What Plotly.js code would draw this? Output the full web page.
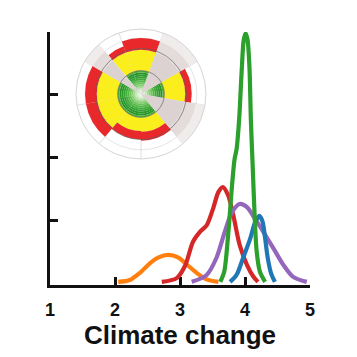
<!DOCTYPE html>
<html><head><meta charset="utf-8">
<script src="https://cdn.plot.ly/plotly-3.0.1.min.js"></script>
<style>html,body{margin:0;padding:0;background:#fff}#chart{width:357px;height:357px}</style>
</head><body><div id="chart"></div>
<script>
// ---- density curves (x = score, y = density) ----
const orangeX = [2.05, 2.23, 2.38, 2.54, 2.67, 2.82, 2.97, 3.10, 3.26, 3.41, 3.59];
const orangeY = [0.02, 0.05, 0.16, 0.32, 0.41, 0.45, 0.41, 0.30, 0.16, 0.06, 0.02];
const redX = [2.72, 2.95, 3.08, 3.20, 3.31, 3.41, 3.51, 3.59, 3.66, 3.74, 3.82, 3.92, 4.03, 4.13, 4.20];
const redY = [0.02, 0.08, 0.28, 0.66, 0.82, 0.92, 1.19, 1.45, 1.53, 1.40, 1.08, 0.60, 0.29, 0.10, 0.02];
const purpleX = [3.18, 3.41, 3.56, 3.69, 3.80, 3.92, 4.03, 4.15, 4.28, 4.44, 4.59, 4.74, 4.95];
const purpleY = [0.02, 0.13, 0.40, 0.82, 1.13, 1.26, 1.21, 1.03, 0.82, 0.55, 0.29, 0.10, 0.02];
const greenX = [3.62, 3.68, 3.74, 3.80, 3.84, 3.87, 3.91, 3.95, 3.98, 4.01, 4.04, 4.07, 4.09, 4.12, 4.15, 4.18, 4.23, 4.31];
const greenY = [0.02, 0.18, 0.76, 1.55, 1.98, 2.13, 2.61, 3.40, 3.87, 3.98, 3.87, 3.40, 2.61, 1.82, 1.03, 0.50, 0.18, 0.02];
const blueX = [3.77, 3.87, 3.97, 4.08, 4.15, 4.22, 4.27, 4.31, 4.35, 4.40, 4.46];
const blueY = [0.02, 0.13, 0.40, 0.71, 0.95, 1.07, 0.98, 0.71, 0.40, 0.16, 0.02];

const xTicks = [1, 2, 3, 4, 5];
const xTickLabels = ['1', '2', '3', '4', '5'];
const yTicks = [1, 2, 3, 4];
const xTitle = 'Climate change';

// ---- inset wheel (9 sectors, one split in two) ----
const sectorTheta = [0, 40, 80, 120, 160, 200, 240, 280, 310, 330];
const sectorWidth = [40, 40, 40, 40, 40, 40, 40, 40, 20, 20];
const quantified  = [1, 0, 1, 0, 1, 1, 1, 1, 0, 1];
const coreOuter = 0.36;
const yellowOuter = [0.68, 0, 0.68, 0, 0.58, 0.57, 0.68, 0.68, 0, 0.68];
const redOuter    = [0.86, 0, 0.78, 0, 0.72, 0.70, 0.86, 0.86, 0, 0.78];
const greenRingEdges  = [0, 0.03, 0.06, 0.09, 0.12, 0.15, 0.18, 0.21, 0.24, 0.27, 0.30, 0.33, 0.36];
const greenRingColors = ['#f4fbf1', '#e0f3d8', '#c4e8b6', '#a6dc94', '#88cf75', '#6cc35a',
                         '#55b847', '#42ad3b', '#35a332', '#2b9a2c', '#289529', '#4fae36'];
const grayRingEdges  = [0, 0.68, 0.86, 1.0];
const grayRingColors = ['#ddd2d2', '#e4dbdb', '#f1ecec'];
const gridRadii = [0.12, 0.24, 0.46, 0.57, 0.86];
const darkRadii = [0.36, 0.70];

const curveColors = { orange: '#ff7f0e', red: '#d62728', purple: '#9467bd', green: '#2ca02c', blue: '#1f77b4' };

function curve(x, y, color) {
  return { type: 'scatter', mode: 'lines', x: x, y: y, xaxis: 'x', yaxis: 'y',
    line: { color: color, width: 4.2, shape: 'spline', smoothing: 0.8 }, hoverinfo: 'skip' };
}

const traces = [
  curve(orangeX, orangeY, curveColors.orange),
  curve(redX, redY, curveColors.red),
  curve(purpleX, purpleY, curveColors.purple),
  curve(blueX, blueY, curveColors.blue),
  curve(greenX, greenY, curveColors.green)
];

function pick(arr, flag) { return arr.filter((_, i) => quantified[i] === flag); }
const qTheta = pick(sectorTheta, 1), qWidth = pick(sectorWidth, 1);
const nTheta = pick(sectorTheta, 0), nWidth = pick(sectorWidth, 0);
const qYellow = pick(yellowOuter, 1), qRed = pick(redOuter, 1);

function ring(theta, width, base, r, color) {
  return { type: 'barpolar', subplot: 'polar', theta: theta, width: width, base: base, r: r,
    marker: { color: color, line: { width: 0 } }, hoverinfo: 'skip' };
}

for (let i = 0; i < greenRingColors.length; i++) {
  const b = greenRingEdges[i], t = greenRingEdges[i + 1];
  traces.push(ring(qTheta, qWidth, qTheta.map(() => b), qTheta.map(() => t - b), greenRingColors[i]));
}
traces.push(ring(qTheta, qWidth, qTheta.map(() => coreOuter), qYellow.map(v => v - coreOuter), '#fbee1d'));
traces.push(ring(qTheta, qWidth, qYellow, qRed.map((v, i) => v - qYellow[i]), '#e8282b'));
for (let i = 0; i < grayRingColors.length; i++) {
  const b = grayRingEdges[i], t = grayRingEdges[i + 1];
  traces.push(ring(nTheta, nWidth, nTheta.map(() => b), nTheta.map(() => t - b), grayRingColors[i]));
}
traces.push({ type: 'scatterpolar', subplot: 'polar2', r: [], theta: [], mode: 'lines', hoverinfo: 'skip' });

const boldFont = { family: 'Liberation Sans, Arial, sans-serif', color: '#111', weight: 700 };

const layout = {
  width: 357, height: 357,
  margin: { l: 50, r: 47, t: 20, b: 72 },
  paper_bgcolor: '#fff', plot_bgcolor: '#fff',
  showlegend: false,
  xaxis: {
    range: [1, 5], tickvals: xTicks, ticktext: xTickLabels,
    showgrid: false, zeroline: false,
    showline: true, linecolor: '#111', linewidth: 3,
    ticks: 'inside', ticklen: 8, tickwidth: 3, tickcolor: '#111',
    ticklabelstandoff: 6,
    tickfont: Object.assign({ size: 18 }, boldFont),
    title: { text: xTitle, font: Object.assign({ size: 26 }, boldFont), standoff: 4 },
    layer: 'below traces'
  },
  yaxis: {
    range: [-0.03, 4], domain: [0, 0.9547], tickvals: yTicks,
    showticklabels: false, showgrid: false, zeroline: false,
    showline: true, linecolor: '#111', linewidth: 3,
    ticks: 'inside', ticklen: 8, tickwidth: 3, tickcolor: '#111',
    layer: 'below traces'
  },
  polar: {
    domain: { x: [0.1, 0.6], y: [0.4755, 0.966] },
    bgcolor: '#fff', barmode: 'overlay',
    radialaxis: { range: [0, 1], tickvals: gridRadii, showticklabels: false, ticks: '',
      showline: false, gridcolor: 'rgba(200,200,200,0.6)', gridwidth: 0.8, layer: 'above traces' },
    angularaxis: { rotation: 90, direction: 'clockwise', tickvals: [20, 60, 100, 140, 180, 220, 260, 300, 340],
      showticklabels: false, ticks: '', gridcolor: 'rgba(200,200,200,0.7)', gridwidth: 0.8,
      showline: true, linecolor: '#d4d4d4', linewidth: 1, layer: 'above traces' }
  },
  polar2: {
    domain: { x: [0.1, 0.6], y: [0.4755, 0.966] },
    bgcolor: 'rgba(0,0,0,0)',
    radialaxis: { range: [0, 1], tickvals: darkRadii, showticklabels: false, ticks: '',
      showline: false, gridcolor: 'rgba(95,95,95,0.65)', gridwidth: 1 },
    angularaxis: { rotation: 90, direction: 'clockwise', showticklabels: false, ticks: '',
      showgrid: false, showline: false }
  }
};

Plotly.newPlot('chart', traces, layout, { staticPlot: true, displayModeBar: false });
</script></body></html>
